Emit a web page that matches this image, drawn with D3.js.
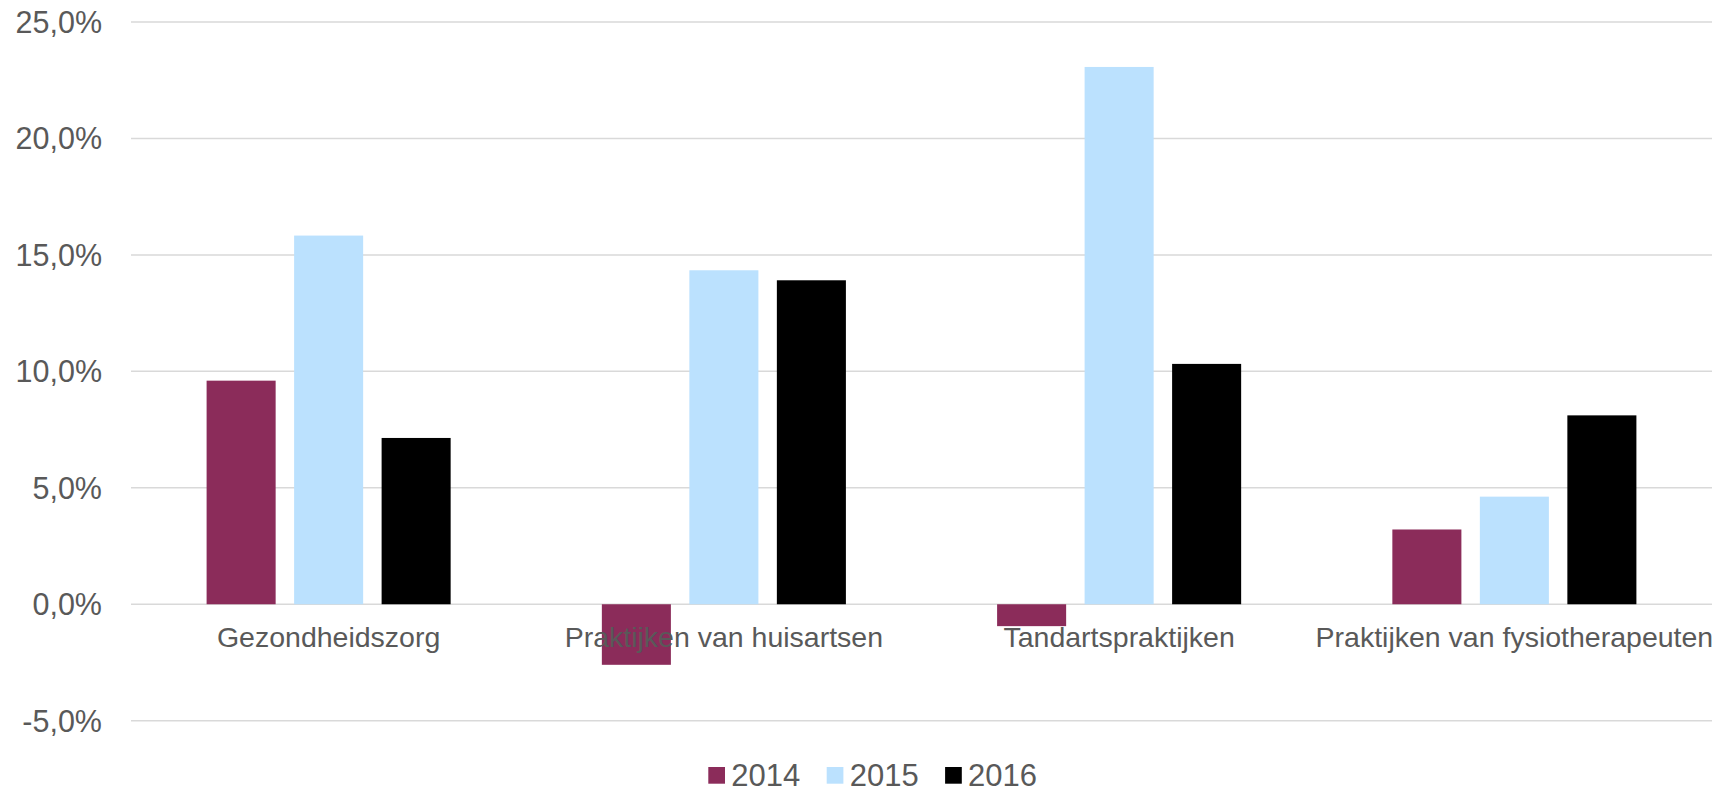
<!DOCTYPE html>
<html lang="nl">
<head>
    <meta charset="UTF-8">
    <title>Groei gezondheidszorg 2014-2016</title>
    <script src="https://d3js.org/d3.v7.min.js"></script>
    <style>
        body { margin: 0; background: #fff; font-family: "Liberation Sans", Arial, sans-serif; }
        .grid line { stroke: #d9d9d9; stroke-width: 1.5; }
        text { fill: #595959; }
    </style>
</head>
<body>
    <svg width="1725" height="793"></svg>
    <script>
        // data
        const categories = ["Gezondheidszorg", "Praktijken van huisartsen", "Tandartspraktijken", "Praktijken van fysiotherapeuten"];
        const years = ["2014", "2015", "2016"];
        const values2014 = [9.6, -2.6, -0.94, 3.21];
        const values2015 = [15.83, 14.34, 23.07, 4.62];
        const values2016 = [7.14, 13.91, 10.32, 8.11];
        const yTicks = [-5, 0, 5, 10, 15, 20, 25];
        const colors = ["#8b2c5a", "#bbe1fe", "#000000"];

        const series = [values2014, values2015, values2016];
        const svg = d3.select("svg");

        const x0 = d3.scaleBand().domain(categories).range([131, 1712]);
        const outer = 75.6;
        const x1 = d3.scaleBand().domain(years)
            .range([outer, x0.bandwidth() - outer])
            .paddingInner(0.211);

        const y = d3.scaleLinear().domain([-5, 25]).range([720.7, 22]);

        // gridlines
        svg.append("g").attr("class", "grid")
            .selectAll("line")
            .data(yTicks)
            .enter().append("line")
            .attr("x1", 131).attr("x2", 1712)
            .attr("y1", d => y(d)).attr("y2", d => y(d));

        // y labels
        svg.append("g")
            .selectAll("text")
            .data(yTicks)
            .enter().append("text")
            .attr("x", 102)
            .attr("y", d => y(d))
            .attr("dy", "0.36em")
            .attr("text-anchor", "end")
            .style("font-size", "30.5px")
            .text(d => d.toFixed(1).replace(".", ",") + "%");

        // bars
        const groups = svg.append("g")
            .selectAll("g")
            .data(categories)
            .enter().append("g")
            .attr("transform", d => `translate(${x0(d)},0)`);

        groups.selectAll("rect")
            .data((c, i) => years.map((yr, j) => ({ year: yr, value: series[j][i], color: colors[j] })))
            .enter().append("rect")
            .attr("x", d => x1(d.year))
            .attr("width", x1.bandwidth())
            .attr("y", d => y(Math.max(0, d.value)))
            .attr("height", d => Math.abs(y(d.value) - y(0)))
            .attr("fill", d => d.color);

        // category labels (drawn over the bars)
        svg.append("g")
            .selectAll("text")
            .data(categories)
            .enter().append("text")
            .attr("x", d => x0(d) + x0.bandwidth() / 2)
            .attr("y", 647.3)
            .attr("text-anchor", "middle")
            .style("font-size", "28.5px")
            .text(d => d);

        // legend
        const legend = svg.append("g")
            .selectAll("g")
            .data(years)
            .enter().append("g")
            .attr("transform", (d, i) => `translate(${708.3 + i * 118.4},0)`);

        legend.append("rect")
            .attr("x", 0).attr("y", 767)
            .attr("width", 16.7).attr("height", 16.7)
            .attr("fill", (d, i) => colors[i]);

        legend.append("text")
            .attr("x", 23)
            .attr("y", 785.5)
            .style("font-size", "31px")
            .text(d => d);
    </script>
</body>
</html>
